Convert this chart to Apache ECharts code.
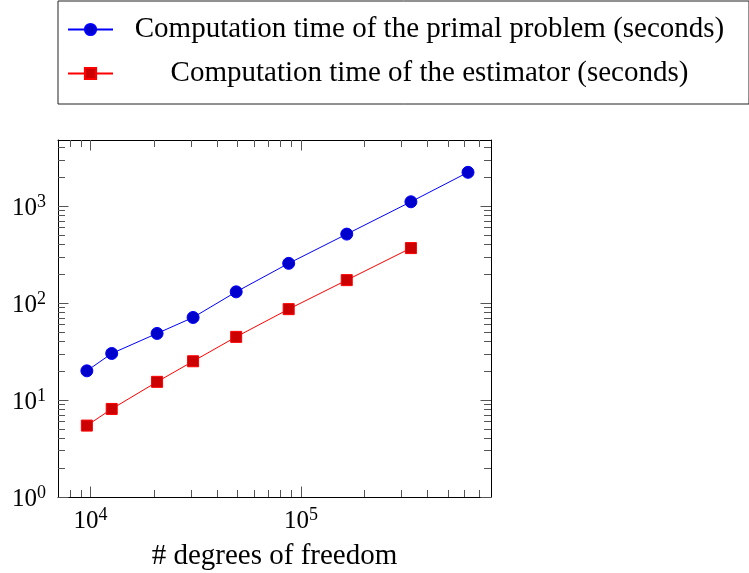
<!DOCTYPE html>
<html>
<head>
<meta charset="utf-8">
<script src="https://cdn.jsdelivr.net/npm/echarts@6/dist/echarts.min.js"></script>
<style>
html,body{margin:0;padding:0;background:#fff;}
#chart{width:749px;height:573px;}
</style>
</head>
<body>
<div id="chart"></div>
<script>
// ---- data ----
const dofs = [9600, 12600, 20700, 30700, 49200, 87400, 165000, 333000, 622000];
const primalTime = [20, 30.2, 48.6, 71, 130.5, 256.5, 514, 1107, 2228];
const estimatorTime = [5.45, 8.09, 15.4, 25.1, 44.8, 86.5, 172.3, 368.7];
const seriesNames = ['Computation time of the primal problem (seconds)', 'Computation time of the estimator (seconds)'];
const xAxisName = '# degrees of freedom';
const xMajorTicks = [10000, 100000];
const xMinorTicks = [8000, 9000, 20000, 30000, 40000, 50000, 60000, 70000, 80000, 90000,
  200000, 300000, 400000, 500000, 600000, 700000];
const yMajorTicks = [1, 10, 100, 1000];
const yMinorTicks = [2, 3, 4, 5, 6, 7, 8, 9, 20, 30, 40, 50, 60, 70, 80, 90,
  200, 300, 400, 500, 600, 700, 800, 900, 2000, 3000, 4000];
const xRange = [7000, 800000];
const yRange = [1, 4800];

const FONT = '"Liberation Serif", "DejaVu Serif", serif';
const tickColor = '#555';
const powLabel = v => '{b|10}{s|' + Math.round(Math.log10(v)) + '}';
const labelRich = {
  b: {fontFamily: FONT, fontSize: 25, lineHeight: 30, color: '#000'},
  s: {fontFamily: FONT, fontSize: 18, lineHeight: 18, verticalAlign: 'top', color: '#000'}
};

function xAx(pos, major, withLabel) {
  return {
    type: 'log', logBase: 10, gridIndex: 0, position: pos,
    min: xRange[0], max: xRange[1],
    axisLine: {show: major, lineStyle: {color: '#000', width: 1}},
    axisTick: {show: true, inside: true, length: major ? 10.5 : 7,
      customValues: major ? xMajorTicks : xMinorTicks,
      lineStyle: {color: tickColor, width: 1}},
    axisLabel: {show: withLabel, customValues: xMajorTicks, formatter: powLabel,
      rich: labelRich, margin: 9},
    splitLine: {show: false},
    name: withLabel ? xAxisName : '',
    nameLocation: 'middle', nameGap: 45,
    nameTextStyle: {fontFamily: FONT, fontSize: 29, color: '#000'}
  };
}
function yAx(pos, major, withLabel) {
  return {
    type: 'log', logBase: 10, gridIndex: 0, position: pos,
    min: yRange[0], max: yRange[1],
    axisLine: {show: major, lineStyle: {color: '#000', width: 1}},
    axisTick: {show: true, inside: true, length: major ? 10.5 : 7,
      customValues: major ? yMajorTicks : yMinorTicks,
      lineStyle: {color: tickColor, width: 1}},
    axisLabel: {show: withLabel, customValues: yMajorTicks, formatter: powLabel,
      rich: labelRich, margin: 12, padding: [4, 0, 0, 0]},
    splitLine: {show: false}
  };
}

const chart = echarts.init(document.getElementById('chart'), null, {renderer: 'canvas'});
chart.setOption({
  animation: false,
  backgroundColor: '#fff',
  grid: {left: 58, right: 258, top: 140, bottom: 76, containLabel: false, outerBoundsMode: 'none'},
  legend: {
    orient: 'vertical', left: 58, top: 1,
    padding: [14, 8, 16, 9], itemGap: 15,
    itemWidth: 45, itemHeight: 14,
    borderColor: '#222', borderWidth: 1,
    data: seriesNames,
    formatter: n => '{t|' + n + '}',
    textStyle: {
      rich: {t: {width: 623, align: 'center', fontFamily: FONT, fontSize: 29, lineHeight: 30, color: '#000'}}
    }
  },
  xAxis: [xAx('bottom', true, true), xAx('bottom', false, false), xAx('top', true, false), xAx('top', false, false)],
  yAxis: [yAx('left', true, true), yAx('left', false, false), yAx('right', true, false), yAx('right', false, false)],
  series: [
    {
      name: seriesNames[0], type: 'line', xAxisIndex: 0, yAxisIndex: 0,
      data: dofs.map((x, i) => [x, primalTime[i]]),
      symbol: 'circle', symbolSize: 12,
      lineStyle: {color: '#0000ff', width: 1},
      itemStyle: {color: '#0000cc', borderColor: '#0000ff', borderWidth: 1}
    },
    {
      name: seriesNames[1], type: 'line', xAxisIndex: 0, yAxisIndex: 0,
      data: estimatorTime.map((y, i) => [dofs[i], y]),
      symbol: 'rect', symbolSize: 11,
      lineStyle: {color: '#ff0000', width: 1},
      itemStyle: {color: '#cc0000', borderColor: '#ff0000', borderWidth: 1}
    }
  ]
});
</script>
</body>
</html>
